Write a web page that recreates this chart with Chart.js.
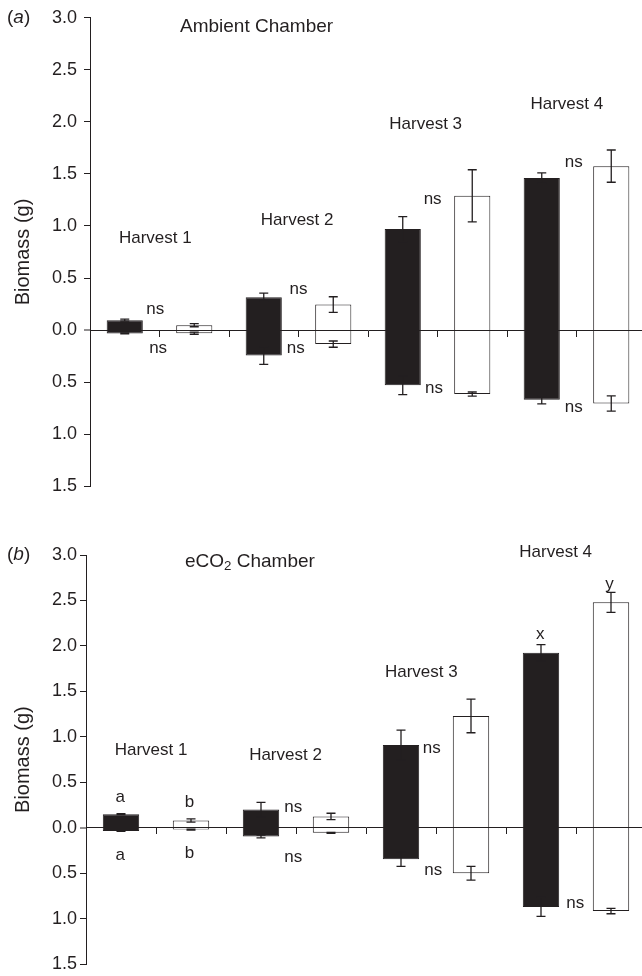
<!DOCTYPE html>
<html>
<head>
<meta charset="utf-8">
<script src="https://cdn.jsdelivr.net/npm/chart.js@4/dist/chart.umd.min.js"></script>
<style>
body { margin: 0; background: #fff; overflow: hidden; }
#panelA { position: absolute; left: 0; top: 0; }
#panelB { position: absolute; left: 0; top: 504px; }
</style>
</head>
<body>
<canvas id="panelA" width="648" height="504"></canvas>
<canvas id="panelB" width="648" height="474"></canvas>
<script>
// 8 bars: filled / open for each harvest
const categories = ['H1 filled', 'H1 open', 'H2 filled', 'H2 open', 'H3 filled', 'H3 open', 'H4 filled', 'H4 open']

// (a) ambient chamber, shoot above zero and root below (g)
const shootAmb = [0.095, 0.047, 0.315, 0.245, 0.97, 1.29, 1.46, 1.575]
const shootErrAmb = [0.01, 0.015, 0.04, 0.075, 0.12, 0.25, 0.05, 0.155]
const rootAmb = [0.032, 0.03, 0.245, 0.135, 0.53, 0.615, 0.67, 0.705]
const rootErrAmb = [0.005, 0.01, 0.085, 0.03, 0.09, 0.02, 0.04, 0.073]

// (b) eCO2 chamber
const shootCO2 = [0.15, 0.08, 0.2, 0.125, 0.91, 1.23, 1.925, 2.48]
const shootErrCO2 = [0.005, 0.018, 0.08, 0.035, 0.165, 0.185, 0.09, 0.11]
const rootCO2 = [0.035, 0.02, 0.095, 0.055, 0.345, 0.5, 0.87, 0.915]
const rootErrCO2 = [0.005, 0.005, 0.015, 0.005, 0.08, 0.075, 0.105, 0.03]

// text on the plot: [text, x in bar units, y in g]
const notesAmb = [
    ['Harvest 1', 0.44, 0.88], ['Harvest 2', 2.48, 1.05], ['Harvest 3', 4.33, 1.98], ['Harvest 4', 6.36, 2.17],
    ['ns', 0.44, 0.20], ['ns', 0.48, -0.18],
    ['ns', 2.50, 0.39], ['ns', 2.46, -0.18],
    ['ns', 4.43, 1.26], ['ns', 4.45, -0.56],
    ['ns', 6.46, 1.61], ['ns', 6.46, -0.74]
]
const notesCO2 = [
    ['Harvest 1', 0.43, 0.854], ['Harvest 2', 2.35, 0.796], ['Harvest 3', 4.29, 1.71], ['Harvest 4', 6.21, 3.03],
    ['a', -0.01, 0.33], ['a', -0.01, -0.30],
    ['b', 0.98, 0.277], ['b', 0.98, -0.28],
    ['ns', 2.46, 0.22], ['ns', 2.46, -0.33],
    ['ns', 4.44, 0.87], ['ns', 4.46, -0.47],
    ['x', 5.99, 2.13], ['y', 6.98, 2.68],
    ['ns', 6.49, -0.83]
]

const ink = '#231f20'
const fam = "'Liberation Sans', Arial, Helvetica, sans-serif"
const barColors = categories.map((c, i) => i % 2 == 0 ? ink : '#ffffff')

// draws a row of text pieces (normal, italic or subscript) from x
function drawParts(ctx, parts, x, y, size) {
    ctx.textAlign = 'left'
    ctx.textBaseline = 'middle'
    parts.forEach(p => {
        let s = p.sub ? size * 0.7 : size
        ctx.font = (p.italic ? 'italic ' : '') + s + 'px ' + fam
        ctx.fillText(p.t, x, p.sub ? y + 5 : y)
        x += ctx.measureText(p.t).width
    })
}

const errorBars = {
    id: 'errorBars',
    afterDatasetsDraw(chart) {
        const ctx = chart.ctx
        const yScale = chart.scales.y
        ctx.save()
        ctx.strokeStyle = ink
        ctx.lineWidth = 1.3
        chart.data.datasets.forEach((ds, d) => {
            const meta = chart.getDatasetMeta(d)
            ds.errors.forEach((e, i) => {
                const v = ds.data[i]
                const x = meta.data[i].x
                const y1 = yScale.getPixelForValue(v - e)
                const y2 = yScale.getPixelForValue(v + e)
                ctx.beginPath()
                ctx.moveTo(x, y1); ctx.lineTo(x, y2)
                ctx.moveTo(x - 4.5, y1); ctx.lineTo(x + 4.5, y1)
                ctx.moveTo(x - 4.5, y2); ctx.lineTo(x + 4.5, y2)
                ctx.stroke()
            })
        })
        ctx.restore()
    }
}

function notesPlugin(notes, title, tag) {
    return {
        id: 'notes',
        afterDraw(chart) {
            const ctx = chart.ctx
            const xs = chart.scales.x, ys = chart.scales.y
            ctx.save()
            ctx.fillStyle = ink
            ctx.textAlign = 'center'
            ctx.textBaseline = 'middle'
            ctx.font = '17px ' + fam
            notes.forEach(n => {
                ctx.fillText(n[0], xs.getPixelForValue(n[1]), ys.getPixelForValue(n[2]))
            })
            drawParts(ctx, title.parts, xs.getPixelForValue(title.x), ys.getPixelForValue(title.y), 19)
            drawParts(ctx, [{t: '('}, {t: tag, italic: true}, {t: ')'}], 7, ys.getPixelForValue(3), 19)
            ctx.restore()
        }
    }
}

function makeChart(id, shoot, shootErr, root, rootErr, notes, title, tag, axisWidth, tickPad, pad) {
    return new Chart(document.getElementById(id), {
        type: 'bar',
        data: {
            labels: categories,
            datasets: [{
                label: 'Shoot',
                data: shoot,
                errors: shootErr,
                backgroundColor: barColors,
                borderColor: ink,
                borderWidth: 1
            }, {
                label: 'Root',
                data: root.map(v => -v),
                errors: rootErr,
                backgroundColor: barColors,
                borderColor: ink,
                borderWidth: 1
            }]
        },
        options: {
            responsive: false,
            animation: false,
            layout: { padding: pad },
            datasets: { bar: { categoryPercentage: 1, barPercentage: 0.52 } },
            plugins: { legend: { display: false }, tooltip: { enabled: false } },
            scales: {
                x: {
                    stacked: true,
                    position: { y: 0 },
                    offset: true,
                    grid: { offset: true, drawOnChartArea: false, drawTicks: true, tickLength: 6, color: ink },
                    // zero line on top of the bars
                    border: { color: ink, width: 1, z: 1 },
                    ticks: { display: false }
                },
                y: {
                    stacked: true,
                    min: -1.5,
                    max: 3,
                    afterFit: s => { s.width = axisWidth },
                    ticks: {
                        stepSize: 0.5,
                        padding: tickPad,
                        color: ink,
                        font: { family: fam, size: 18 },
                        callback: v => Math.abs(v).toFixed(1)
                    },
                    grid: {
                        drawOnChartArea: false,
                        tickLength: 6,
                        color: ink,
                        tickColor: ink,
                        tickWidth: 1,
                        // no grid width at zero so the bars meet without a gap
                        lineWidth: c => (c.tick && c.tick.value === 0) ? 0 : 1
                    },
                    border: { color: ink, width: 1 },
                    title: {
                        display: true,
                        text: 'Biomass (g)',
                        color: ink,
                        font: { family: fam, size: 20 },
                        padding: { top: 11, bottom: 0 }
                    }
                }
            }
        },
        plugins: [errorBars, notesPlugin(notes, title, tag)]
    })
}

makeChart('panelA', shootAmb, shootErrAmb, rootAmb, rootErrAmb, notesAmb,
    { parts: [{t: 'Ambient Chamber'}], x: 0.795, y: 2.914 }, 'a', 90, 7,
    { top: 16, right: 2, bottom: 11, left: 0 })

makeChart('panelB', shootCO2, shootErrCO2, rootCO2, rootErrCO2, notesCO2,
    { parts: [{t: 'eCO'}, {t: '2', sub: true}, {t: ' Chamber'}], x: 0.914, y: 2.93 }, 'b', 86, 3,
    { top: 51, right: 2, bottom: 12, left: 0 })
</script>
</body>
</html>
